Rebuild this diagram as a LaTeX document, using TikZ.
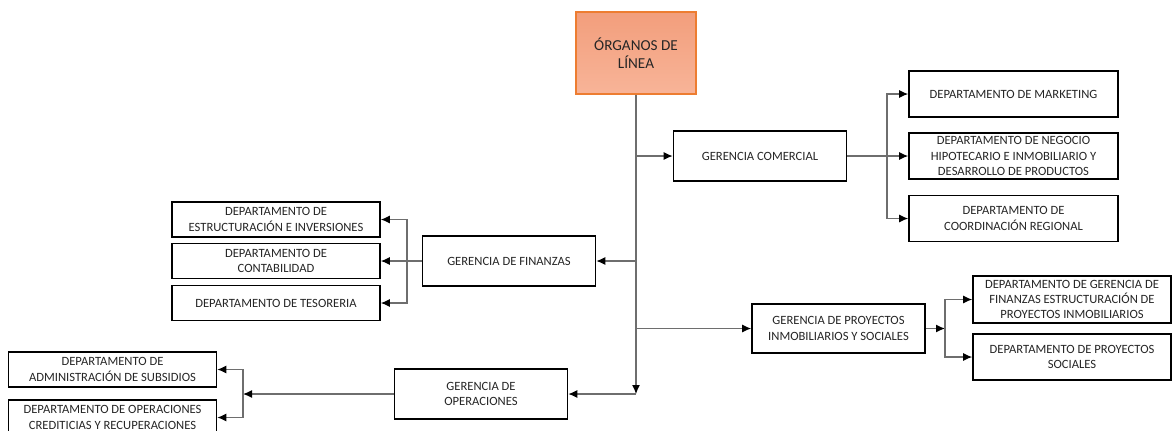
\documentclass[tikz,border=0pt]{standalone}
\usepackage{fontspec}
\setmainfont{Carlito}
\usepackage{tikz}
\usetikzlibrary{arrows.meta}
\definecolor{orgtop}{RGB}{242,158,124}
\definecolor{orgbot}{RGB}{248,180,152}
\definecolor{orgline}{RGB}{237,125,49}
\definecolor{txt}{RGB}{38,38,38}
\definecolor{wire}{RGB}{110,110,110}

\begin{document}
\begin{tikzpicture}[x=0.5pt, y=-0.5pt,
        box/.style={draw=black, line width=0.8pt, fill=white, inner sep=1pt, align=center,
            text=txt, font=\fontsize{6.3}{7.6}\selectfont},
        gbox/.style={box, minimum width=86.5pt, minimum height=25pt},
        dbox/.style={box, minimum width=104.5pt, minimum height=23pt},
        sbox/.style={box, minimum width=104pt, minimum height=17.5pt},
        link/.style={draw=wire, line width=0.6pt, -{Latex[length=4.5pt, width=4pt, color=black]}},
        wire/.style={draw=wire, line width=0.6pt}]
        \useasboundingbox (0, 0) rectangle (1172, 430);
        \node[box, draw=orgline, top color=orgtop, bottom color=orgbot, minimum width=60pt, minimum height=41pt,
            font=\fontsize{7.6}{9.2}\selectfont] (org) at (636, 53) {ÓRGANOS DE\\LÍNEA};
        \node[gbox] (com) at (760, 156) {GERENCIA COMERCIAL};
        \node[dbox] (mkt) at (1013.5, 94) {DEPARTAMENTO DE MARKETING};
        \node[dbox] (neg) at (1013.5, 156) {DEPARTAMENTO DE NEGOCIO\\HIPOTECARIO E INMOBILIARIO Y\\DESARROLLO DE PRODUCTOS};
        \node[dbox] (coo) at (1013.5, 218.5) {DEPARTAMENTO DE\\COORDINACIÓN REGIONAL};
        \node[gbox] (fin) at (509, 261) {GERENCIA DE FINANZAS};
        \node[sbox] (est) at (276, 219.5) {DEPARTAMENTO DE\\ESTRUCTURACIÓN E INVERSIONES};
        \node[sbox] (con) at (276, 261) {DEPARTAMENTO DE\\CONTABILIDAD};
        \node[sbox] (tes) at (276, 303) {DEPARTAMENTO DE TESORERIA};
        \node[gbox, minimum height=24.5pt] (pro) at (838.5, 328.5) {GERENCIA DE PROYECTOS\\INMOBILIARIOS Y SOCIALES};
        \node[box, minimum width=99pt, minimum height=23.5pt] (pfi) at (1072, 299.5)
            {DEPARTAMENTO DE GERENCIA DE\\FINANZAS ESTRUCTURACIÓN DE\\PROYECTOS INMOBILIARIOS};
        \node[box, minimum width=99pt, minimum height=23pt] (pso) at (1072, 357) {DEPARTAMENTO DE PROYECTOS\\SOCIALES};
        \node[gbox] (ope) at (481, 394) {GERENCIA DE\\OPERACIONES};
        \node[sbox] (sub) at (112.5, 369.5) {DEPARTAMENTO DE\\ADMINISTRACIÓN DE SUBSIDIOS};
        \node[sbox] (cre) at (112.5, 417.5) {DEPARTAMENTO DE OPERACIONES\\CREDITICIAS Y RECUPERACIONES};
        \coordinate (tend) at (636, 394);
        \coordinate (cb) at (887, 156);
        \coordinate (fb) at (407, 261);
        \coordinate (pb) at (945, 328.5);
        \coordinate (ob) at (243, 394);
        \draw[link] (org.south) -- (tend);
        \draw[link] (tend) -- (ope.east);
        \draw[link] (org.south |- com.west) -- (com.west);
        \draw[link] (org.south |- fin.east) -- (fin.east);
        \draw[link] (org.south |- pro.west) -- (pro.west);
        \draw[link] (com.east) -- (neg.west);
        \draw[link] (cb) |- (mkt.west);
        \draw[link] (cb) |- (coo.west);
        \draw[wire] (fin.west) -- (fb);
        \draw[link] (fb) |- (est.east);
        \draw[link] (fb) -- (con.east);
        \draw[link] (fb) |- (tes.east);
        \draw[link] (pro.east) -- (pb);
        \draw[link] (pb) |- (pfi.west);
        \draw[link] (pb) |- (pso.west);
        \draw[link] (ope.west) -- (ob);
        \draw[link] (ob) |- (sub.east);
        \draw[link] (ob) |- (cre.east);
\end{tikzpicture}
\end{document}
